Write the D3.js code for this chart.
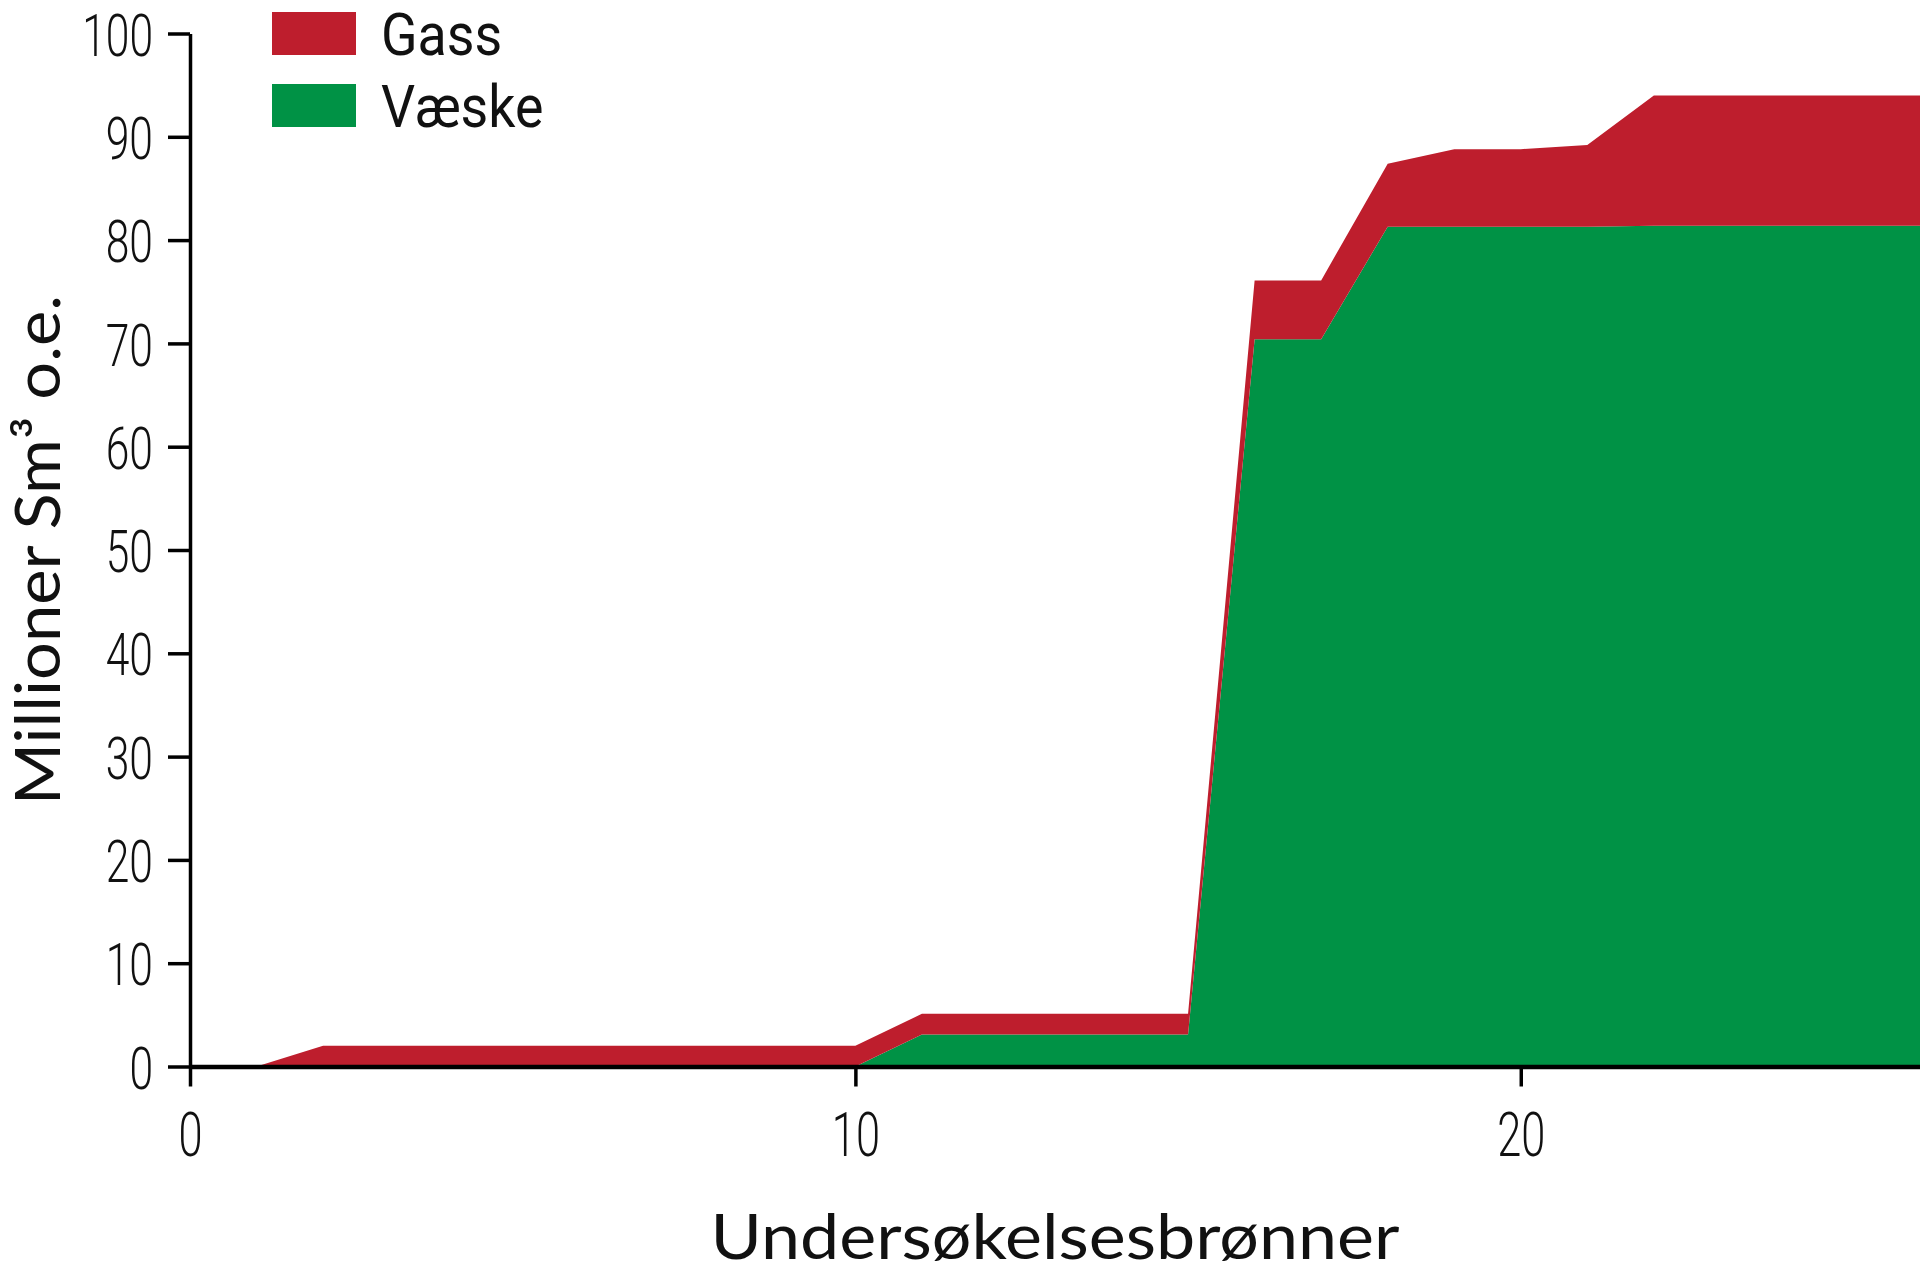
<!DOCTYPE html>
<html>
<head>
<meta charset="utf-8">
<script src="https://cdn.jsdelivr.net/npm/d3@7"></script>
<style>
  body { margin: 0; background: #fff; }
</style>
</head>
<body>
<script>
// Data (cumulative resources per exploration well)
const wells  = [1, 2, 3, 4, 5, 6, 7, 8, 9, 10, 11, 12, 13, 14, 15, 16, 17, 18, 19, 20, 21, 22, 23, 24, 25, 26];
const vaeske = [0, 0, 0, 0, 0, 0, 0, 0, 0, 0, 3.1, 3.1, 3.1, 3.1, 3.1, 70.4, 70.4, 81.3, 81.3, 81.3, 81.3, 81.4, 81.4, 81.4, 81.4, 81.4];
const gass   = [0, 2.0, 2.0, 2.0, 2.0, 2.0, 2.0, 2.0, 2.0, 2.0, 2.0, 2.0, 2.0, 2.0, 2.0, 5.7, 5.7, 6.1, 7.5, 7.5, 7.9, 12.6, 12.6, 12.6, 12.6, 12.6];
const seriesKeys = ["vaeske", "gass"];
const legendLabels = ["Gass", "Væske"];
const xTicks = [0, 10, 20];
const yTicks = [0, 10, 20, 30, 40, 50, 60, 70, 80, 90, 100];

const width = 1920, height = 1277;
const margin = { top: 33.5, right: 0, bottom: 210.5, left: 190 };
const colors = { gass: "#be1e2d", vaeske: "#009245" };

const svg = d3.select("body").append("svg")
    .attr("width", width)
    .attr("height", height);

// Build table for the stack
const table = wells.map((w, i) => ({ well: w, vaeske: vaeske[i], gass: gass[i] }));
const stacked = d3.stack().keys(seriesKeys)(table);

const x = d3.scaleLinear()
    .domain([0, 26])
    .range([margin.left, width - margin.right]);

const y = d3.scaleLinear()
    .domain([0, 100])
    .range([height - margin.bottom, margin.top]);

const area = d3.area()
    .x(d => x(d.data.well))
    .y0(d => y(d[0]))
    .y1(d => y(d[1]));

svg.append("g")
    .selectAll("path")
    .data(stacked)
    .join("path")
    .attr("fill", d => colors[d.key])
    .attr("d", area);

// squeeze text horizontally to mimic a condensed face
function condense(sel, sx) {
    sel.each(function() {
        const t = d3.select(this);
        const x0 = +t.attr("x") || 0;
        t.attr("x", x0 / sx).attr("transform", `scale(${sx},1)`);
    });
}

// Y axis
const yAxis = svg.append("g")
    .attr("transform", `translate(${margin.left},0)`)
    .call(d3.axisLeft(y).tickValues(yTicks).tickSize(22).tickSizeOuter(0));
yAxis.select(".domain").attr("stroke", "#000").attr("stroke-width", 3.5);
yAxis.selectAll(".tick line").attr("stroke", "#000").attr("stroke-width", 3.5);
yAxis.selectAll(".tick text")
    .attr("x", -37)
    .attr("dy", "0.36em")
    .attr("fill", "#111")
    .style("font-family", "Roboto")
    .style("font-weight", 300)
    .style("font-size", "60px")
    .call(condense, 0.71);

// X axis
const xAxis = svg.append("g")
    .attr("transform", `translate(0,${y(0)})`)
    .call(d3.axisBottom(x).tickValues(xTicks).tickSize(20).tickSizeOuter(0));
xAxis.select(".domain").attr("stroke", "#000").attr("stroke-width", 4.5);
xAxis.selectAll(".tick line").attr("stroke", "#000").attr("stroke-width", 3.5);
xAxis.selectAll(".tick text")
    .attr("y", 90)
    .attr("dy", 0)
    .attr("fill", "#111")
    .style("font-family", "Roboto")
    .style("font-weight", 300)
    .style("font-size", "62px")
    .call(condense, 0.7);

// Axis titles
svg.append("text")
    .attr("x", 1055)
    .attr("y", 1259)
    .attr("text-anchor", "middle")
    .attr("textLength", 689)
    .attr("lengthAdjust", "spacingAndGlyphs")
    .style("font-family", "Lato")
    .style("font-size", "62px")
    .attr("fill", "#111")
    .text("Undersøkelsesbrønner");

svg.append("text")
    .attr("transform", "translate(60,550) rotate(-90)")
    .attr("text-anchor", "middle")
    .attr("textLength", 510)
    .attr("lengthAdjust", "spacingAndGlyphs")
    .style("font-family", "Lato")
    .style("font-size", "61px")
    .attr("fill", "#111")
    .text("Millioner Sm³ o.e.");

// Legend
const legend = svg.append("g");
const legendKeys = ["gass", "vaeske"];
const rows = legend.selectAll("g")
    .data(legendKeys)
    .join("g")
    .attr("transform", (d, i) => `translate(272,${12 + i * 72})`);
rows.append("rect")
    .attr("width", 84)
    .attr("height", 43)
    .attr("fill", d => colors[d]);
rows.append("text")
    .attr("x", 109)
    .attr("y", 43)
    .attr("fill", "#111")
    .style("font-family", "Roboto")
    .style("font-size", "59px")
    .text((d, i) => legendLabels[i])
    .call(condense, 0.91);
</script>
</body>
</html>
